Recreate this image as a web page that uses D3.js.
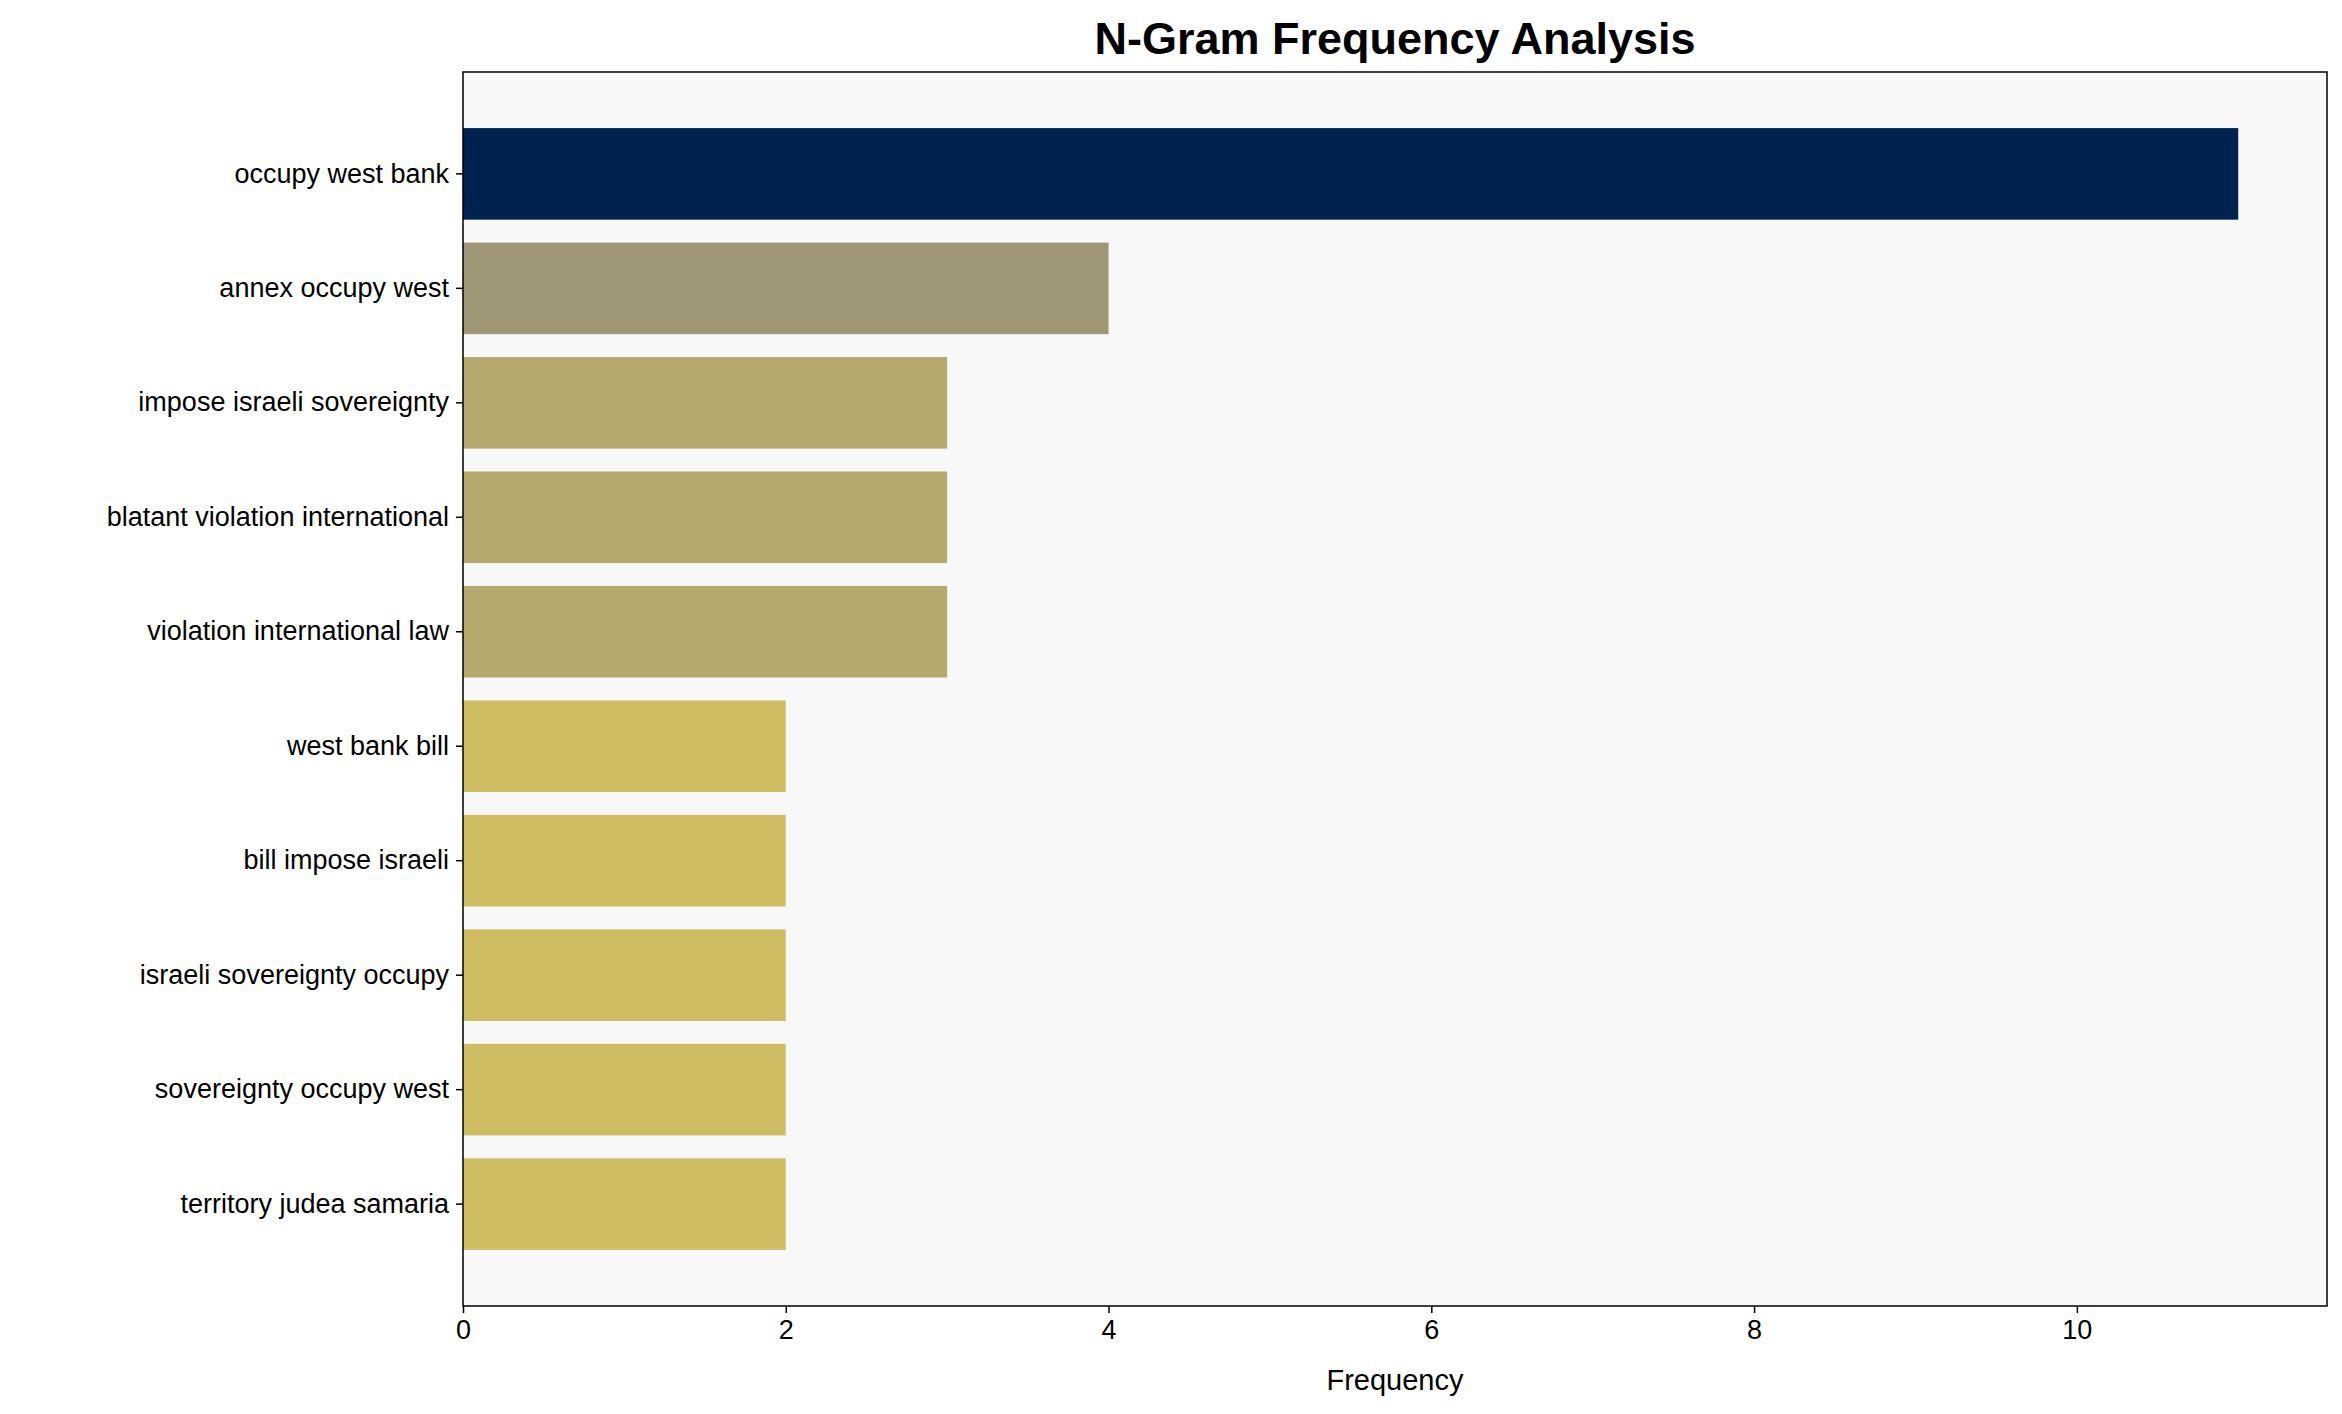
<!DOCTYPE html>
<html><head><meta charset="utf-8">
<script src="https://cdn.jsdelivr.net/npm/d3@7"></script>
<style>body{margin:0;background:#fff}</style></head>
<body><svg id="c" width="2342" height="1414"></svg>
<script>
const categories=["occupy west bank","annex occupy west","impose israeli sovereignty","blatant violation international","violation international law","west bank bill","bill impose israeli","israeli sovereignty occupy","sovereignty occupy west","territory judea samaria"];
const values=[11,4,3,3,3,2,2,2,2,2];
const colors=["#00224e","#9e9675","#b5a96e","#b5a96e","#b5a96e","#cfbd63","#cfbd63","#cfbd63","#cfbd63","#cfbd63"];
const xTicks=[0,2,4,6,8,10];
const L=463,R=2327,T=72,B=1306;
const svg=d3.select("#c");
const font="Arial, Liberation Sans, sans-serif";
svg.append("rect").attr("x",L).attr("y",T).attr("width",R-L).attr("height",B-T).attr("fill","#f8f8f8");
const x=d3.scaleLinear().domain([0,d3.max(values)*1.05]).range([L,R]);
const y=d3.scaleBand().domain(categories).range([T,B]).paddingInner(0.2).paddingOuter(0.49);
svg.selectAll(".bar").data(values).join("rect").attr("x",x(0)).attr("y",(d,i)=>y(categories[i]))
 .attr("width",d=>x(d)-x(0)).attr("height",y.bandwidth()).attr("fill",(d,i)=>colors[i]);
svg.append("rect").attr("x",L).attr("y",T).attr("width",R-L).attr("height",B-T).attr("fill","none").attr("stroke","#000").attr("stroke-width",1.5);
const xa=svg.append("g").attr("transform",`translate(0,${B})`).call(d3.axisBottom(x).tickValues(xTicks).tickSize(7).tickPadding(7));
const ya=svg.append("g").attr("transform",`translate(${L},0)`).call(d3.axisLeft(y).tickSize(7).tickPadding(7));
[xa,ya].forEach(a=>{a.select(".domain").remove();a.selectAll("line").attr("stroke","#000").attr("stroke-width",1.5);a.selectAll("text").attr("font-family",font).attr("font-size",27).attr("fill","#000");});
svg.append("text").attr("x",(L+R)/2).attr("y",1390).attr("text-anchor","middle").attr("font-family",font).attr("font-size",29).text("Frequency");
svg.append("text").attr("x",(L+R)/2).attr("y",54).attr("text-anchor","middle").attr("font-family",font).attr("font-size",45).attr("font-weight","bold").text("N-Gram Frequency Analysis");
</script></body></html>
